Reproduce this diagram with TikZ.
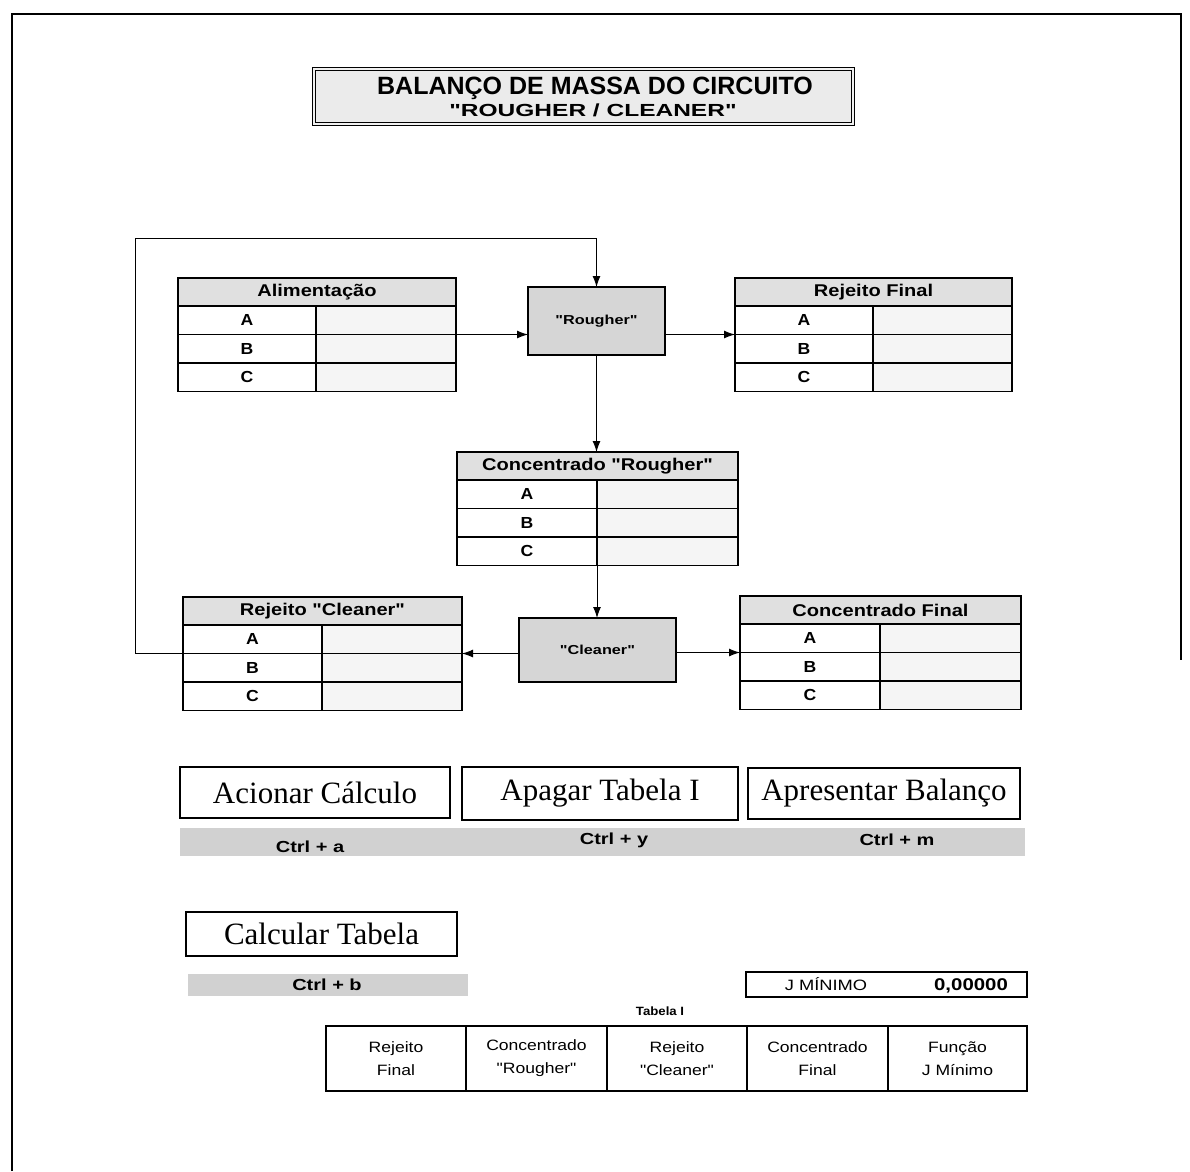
\documentclass[tikz,border=0pt]{standalone}
\usepackage{fontspec}
\setmainfont{Liberation Serif}
\setsansfont{Liberation Sans}[Ligatures=TeXOff]
\usetikzlibrary{arrows.meta}

% sans text, widened by a given factor
\newcommand{\widesans}[1]{\sffamily\addfontfeatures{FakeStretch=#1}}

\tikzset{
  every node/.style={font=\sffamily, inner sep=0pt, outer sep=0pt},
  cellbase/.style={draw, line width=1.2pt, anchor=north west},
  thead/.style={cellbase, fill=black!12, font=\widesans{1.18}\bfseries\fontsize{17}{19}\selectfont},
  tlabel/.style={cellbase, fill=white, font=\widesans{1.1}\bfseries\fontsize{16}{18}\selectfont},
  tvalue/.style={cellbase, fill=black!4},
  unitbox/.style={draw, line width=1.2pt, fill=black!16, font=\widesans{1.25}\bfseries\fontsize{13}{15}\selectfont},
  flow/.style={line width=1pt, -{Latex[length=11pt,width=8pt]}},
  button/.style={draw, line width=1.1pt, fill=white, font=\rmfamily\fontsize{31}{33}\selectfont},
  keyband/.style={fill=black!18},
  keytext/.style={font=\widesans{1.25}\bfseries\fontsize{16}{18}\selectfont},
  tabcell/.style={draw, line width=1.2pt, align=center, minimum height=65,
    font=\widesans{1.17}\fontsize{15}{23}\selectfont},
}

% A stream table: header row plus rows A, B, C with a value column
% #1 name, #2 left, #3 top, #4 width, #5 label column width, #6 header
\newcommand{\streamtable}[6]{%
  \node[thead, minimum width=#4, minimum height=28] (#1) at (#2,#3) {#6};
  \node[tlabel, minimum width=#5, minimum height=28.5] (#1-a) at (#1.south west) {A};
  \node[tvalue, minimum width=#4-#5, minimum height=28.5] (#1-av) at (#1-a.north east) {};
  \node[tlabel, minimum width=#5, minimum height=28.5] (#1-b) at (#1-a.south west) {B};
  \node[tvalue, minimum width=#4-#5, minimum height=28.5] (#1-bv) at (#1-b.north east) {};
  \node[tlabel, minimum width=#5, minimum height=28.5] (#1-c) at (#1-b.south west) {C};
  \node[tvalue, minimum width=#4-#5, minimum height=28.5] (#1-cv) at (#1-c.north east) {};
}

\begin{document}
\begin{tikzpicture}[x=1pt, y=-1pt]
\useasboundingbox (0,0) rectangle (1190,1171);

% page frame
\draw[line width=2pt] (12,1171) -- (12,14) -- (1181,14) -- (1181,660);

% title
\node[draw, line width=1.2pt, double=black!6, double distance=2.5pt, fill=black!8,
      minimum width=539, minimum height=55] (titlebox) at (583.5,96.5) {};
\node[font=\sffamily\bfseries\fontsize{25}{27}\selectfont] (title) at (595,88)
  {BALANÇO DE MASSA DO CIRCUITO};
\node[font=\widesans{1.4}\bfseries\fontsize{17.5}{20}\selectfont] (subtitle) at (593,110)
  {"ROUGHER / CLEANER"};

% stream tables
\streamtable{alim}{178}{278}{278}{138}{Alimentação}
\streamtable{rejf}{735}{278}{277}{138}{Rejeito Final}
\streamtable{concr}{457}{452}{281}{140}{Concentrado "Rougher"}
\streamtable{rejc}{183}{597}{279}{139}{Rejeito "Cleaner"}
\streamtable{concf}{740}{596}{281}{140}{Concentrado Final}

% flotation units
\node[unitbox, minimum width=137, minimum height=68] (rough) at (596.5,321) {"Rougher"};
\node[unitbox, minimum width=157, minimum height=64] (clean) at (597.5,650) {"Cleaner"};

% streams
\coordinate (loop) at (135,238);
\draw[flow] (alim-av.south east) -- (rough.west |- alim-av.south east);
\draw[flow] (rough.east |- rejf-a.south west) -- (rejf-a.south west);
\draw[flow] (rough.south) -- (rough.south |- concr.north);
\draw[flow] (concr-c.south east) -- (concr-c.south east |- clean.north);
\draw[flow] (clean.west |- rejc-av.south east) -- (rejc-av.south east);
\draw[flow] (clean.east |- concf-a.south west) -- (concf-a.south west);
\draw[flow] (rejc-a.south west) -| (loop) -| (rough.north);

% command buttons
\node[button, minimum width=270, minimum height=51] (calc) at (315,792.5) {Acionar Cálculo};
\node[button, minimum width=276, minimum height=53] (erase) at (600,793.5) {Apagar Tabela I};
\node[button, minimum width=272, minimum height=51] (show) at (884,793.5) {Apresentar Balanço};
\node[keyband, minimum width=845, minimum height=28] (keys) at (602.5,842) {};
\node[keytext] (keya) at (310,847) {Ctrl + a};
\node[keytext] (keyy) at (614,840) {Ctrl + y};
\node[keytext] (keym) at (897,840) {Ctrl + m};

\node[button, minimum width=271, minimum height=44] (table) at (321.5,934) {Calcular Tabela};
\node[keyband, minimum width=280, minimum height=22] (keys2) at (328,985) {};
\node[keytext] (keyb) at (327,985) {Ctrl + b};

% objective value
\node[draw, line width=2pt, minimum width=281, minimum height=25] (jbox) at (886.5,984.5) {};
\node[font=\widesans{1.22}\fontsize{15}{17}\selectfont] (jlabel) at (826,984) {J MÍNIMO};
\node[font=\widesans{1.2}\bfseries\fontsize{17}{19}\selectfont] (jvalue) at (971,986) {0,00000};

% table I
\node[font=\widesans{1.1}\bfseries\fontsize{12}{14}\selectfont] (tabname) at (660,1011) {Tabela I};
\node[tabcell, minimum width=140, anchor=north west] (t1) at (326,1026) {Rejeito\\Final};
\node[tabcell, minimum width=141, anchor=north west] (t2) at (t1.north east) {Concentrado\\"Rougher"};
\node[tabcell, minimum width=140, anchor=north west] (t3) at (t2.north east) {Rejeito\\"Cleaner"};
\node[tabcell, minimum width=141, anchor=north west] (t4) at (t3.north east) {Concentrado\\Final};
\node[tabcell, minimum width=139, anchor=north west] (t5) at (t4.north east) {Função\\J Mínimo};
\end{tikzpicture}
\end{document}
